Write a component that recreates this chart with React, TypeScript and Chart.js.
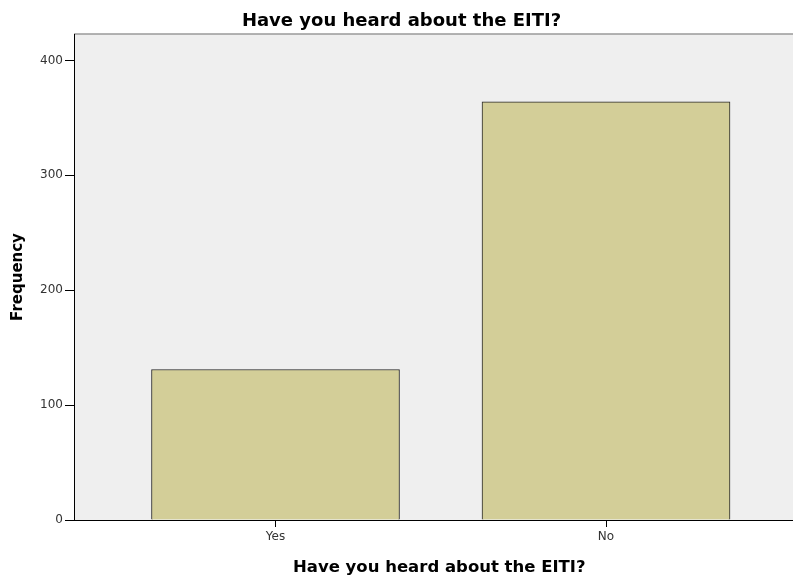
import React, { useEffect, useRef } from "react";
import { Chart, registerables } from "chart.js";

Chart.register(...registerables);

const categories = ["Yes", "No"];
const categoryPositions = [1, 2];
const frequencies = [131, 364];
const yTicks = [0, 100, 200, 300, 400];

const chartTitle = "Have you heard about the EITI?";
const xTitle = "  Have you heard about the EITI?";
const yTitle = "Frequency";

const plotBackground = {
  id: "plotBackground",
  beforeDraw(chart: any) {
    const { ctx, chartArea } = chart;
    if (!chartArea) return;
    ctx.save();
    ctx.fillStyle = "#efefef";
    ctx.fillRect(chartArea.left, chartArea.top, chartArea.right - chartArea.left, chartArea.bottom - chartArea.top);
    ctx.strokeStyle = "#9a9a9a";
    ctx.lineWidth = 1.5;
    ctx.beginPath();
    ctx.moveTo(chartArea.left, chartArea.top);
    ctx.lineTo(chartArea.right, chartArea.top);
    ctx.stroke();
    ctx.restore();
  },
};

export default function App() {
  const ref = useRef<HTMLCanvasElement | null>(null);

  useEffect(() => {
    if (!ref.current) return;
    const font = "'DejaVu Sans', sans-serif";
    const chart = new Chart(ref.current, {
      type: "bar",
      data: {
        datasets: [
          {
            label: "Frequency",
            data: categories.map((c, i) => ({ x: categoryPositions[i], y: frequencies[i] })),
            backgroundColor: "#d3ce98",
            borderColor: "#262626",
            borderWidth: 1,
            barThickness: 248,
          },
        ],
      },
      options: {
        animation: false,
        responsive: false,
        devicePixelRatio: 1,
        layout: { padding: { left: 10, top: 0, right: 0, bottom: 0 } },
        plugins: {
          legend: { display: false },
          tooltip: { enabled: false },
          title: {
            display: true,
            text: chartTitle,
            color: "#000",
            font: { family: font, size: 18, weight: "bold", lineHeight: 1.2 },
            padding: { top: 11, bottom: 1.4 },
          },
        },
        scales: {
          x: {
            type: "linear",
            min: 0.3903,
            max: 2.5658,
            offset: false,
            afterBuildTicks: (scale: any) => {
              scale.ticks = categoryPositions.map((v) => ({ value: v }));
            },
            afterFit: (scale: any) => {
              scale.height = 60;
            },
            ticks: {
              autoSkip: false,
              maxRotation: 0,
              padding: 3,
              color: "#333",
              font: { family: font, size: 12 },
              callback: (v: any) => {
                const i = categoryPositions.indexOf(Number(v));
                return i >= 0 ? categories[i] : "";
              },
            },
            grid: {
              display: true,
              offset: false,
              drawOnChartArea: false,
              drawTicks: true,
              tickLength: 7,
              tickColor: "#000",
              tickWidth: 1,
            },
            border: { display: true, color: "#000", width: 1 },
            title: {
              display: true,
              text: xTitle,
              color: "#000",
              font: { family: font, size: 16.5, weight: "bold", lineHeight: 1.2 },
              padding: { top: 0, bottom: 2 },
            },
          },
          y: {
            type: "linear",
            min: 0,
            max: 423,
            afterBuildTicks: (scale: any) => {
              scale.ticks = yTicks.map((v) => ({ value: v }));
            },
            afterFit: (scale: any) => {
              scale.width = 64;
            },
            ticks: {
              padding: 2,
              color: "#333",
              font: { family: font, size: 12 },
            },
            grid: {
              display: true,
              drawOnChartArea: false,
              drawTicks: true,
              tickLength: 9,
              tickColor: "#000",
              tickWidth: 1,
            },
            border: { display: true, color: "#000", width: 1 },
            title: {
              display: true,
              text: yTitle,
              color: "#000",
              font: { family: font, size: 15, weight: "bold", lineHeight: 1 },
              padding: { top: 0.5, bottom: 0 },
            },
          },
        },
      },
      plugins: [plotBackground],
    } as any);
    return () => chart.destroy();
  }, []);

  return (
    <div style={{ position: "fixed", left: 0, top: 0, width: 793, height: 580, background: "#fff" }}>
      <canvas ref={ref} width={793} height={580} style={{ display: "block", width: 793, height: 580 }} />
    </div>
  );
}
